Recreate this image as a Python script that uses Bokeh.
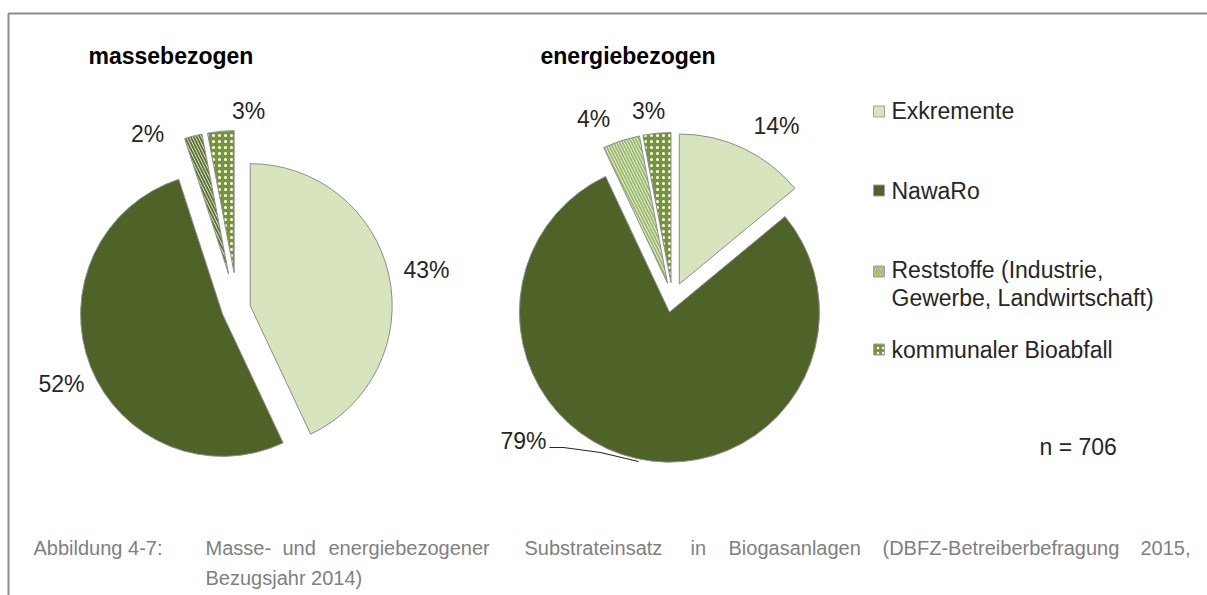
import math
from bokeh.plotting import figure
from bokeh.models import Range1d
from bokeh.embed import file_html
from bokeh.resources import INLINE
from bokeh.core.properties import value

# ---------------- data ----------------
categories = ["Exkremente", "NawaRo",
              "Reststoffe (Industrie, Gewerbe, Landwirtschaft)",
              "kommunaler Bioabfall"]
legend_lines = [["Exkremente"], ["NawaRo"],
                ["Reststoffe (Industrie,", "Gewerbe, Landwirtschaft)"],
                ["kommunaler Bioabfall"]]
masse_values = [43, 52, 2, 3]
energie_values = [14, 79, 4, 3]
pie_titles = ["massebezogen", "energiebezogen"]
n_label = "n = 706"
caption_head = "Abbildung 4-7:"
caption_words = ["Masse-", "und", "energiebezogener", "Substrateinsatz", "in",
                 "Biogasanlagen", "(DBFZ-Betreiberbefragung", "2015,"]
caption_line2 = "Bezugsjahr 2014)"

# ---------------- styles / layout ----------------
W, H = 1207, 595
def Y(py):
    return H - py

FONT = value("Liberation Sans")
fills = ["#D7E4BD", "#4F6228", "#FFFFFF", "#77933C"]
hatches = [None, None, "\\", "."]
outline = "#8C8C8C"

pies = [
    dict(values=masse_values, cx=237, cy=308, r=142, explode=[13, 16, 36, 36],
         hatch_col="#5F7536",
         label_pos=[(426, 269), (61, 383), (147, 133), (248, 110)],
         title_pos=(88, 55)),
    dict(values=energie_values, cx=672, cy=298, r=150, explode=[16, 14, 16, 16],
         hatch_col="#9DB96E",
         label_pos=[(776, 125), (523, 440), (593, 118), (648, 110)],
         title_pos=(540, 55)),
]

p = figure(width=W, height=H, output_backend="svg", toolbar_location=None,
           x_range=Range1d(0, W), y_range=Range1d(0, H), min_border=0,
           background_fill_color="white", border_fill_color="white")
p.axis.visible = False
p.grid.visible = False
p.outline_line_color = None

# frame lines
p.line(x=[8, 8, W], y=[0, Y(13), Y(13)], line_color="#8C8C8C", line_width=2)

for k, pie in enumerate(pies):
    vals = pie["values"]
    total = float(sum(vals))
    cum = 0.0
    for i, v in enumerate(vals):
        t1 = cum / total * 360.0
        t2 = (cum + v) / total * 360.0
        cum += v
        bis = math.radians((t1 + t2) / 2.0)
        d = pie["explode"][i]
        x = pie["cx"] + d * math.sin(bis)
        yp = pie["cy"] - d * math.cos(bis)
        kw = dict(x=[x], y=[Y(yp)], radius=pie["r"], radius_units="screen",
                  start_angle=math.radians(90 - t2), end_angle=math.radians(90 - t1),
                  fill_color=fills[i], line_color=outline, line_width=1)
        if hatches[i] == "\\":
            kw.update(hatch_pattern="\\", hatch_color=pie["hatch_col"],
                      hatch_scale=6, hatch_weight=2)
        elif hatches[i] == ".":
            kw.update(hatch_pattern=".", hatch_color="white",
                      hatch_scale=6, hatch_weight=1.2)
        p.wedge(**kw)
        lx, ly = pie["label_pos"][i]
        p.text(x=[lx], y=[Y(ly)], text=[f"{v}%"], text_align="center",
               text_baseline="middle", text_font=FONT, text_font_size="23px",
               text_color="#262626")
    tx, ty = pie["title_pos"]
    p.text(x=[tx], y=[Y(ty)], text=[pie_titles[k]], text_align="left",
           text_baseline="middle", text_font=FONT, text_font_size="23px",
           text_font_style="bold", text_color="#000000")

# leader line for 79%
p.line(x=[549, 563, 600, 638], y=[Y(447), Y(447), Y(452), Y(461)],
       line_color="#262626", line_width=1.2)

# legend
leg_sq_y = [111, 190, 271, 349]
leg_txt_y = [[110], [190], [269, 297], [349]]
for i, cat in enumerate(categories):
    kw = dict(x=[878.5], y=[Y(leg_sq_y[i])], width=11, height=11,
              fill_color=fills[i], line_color="#A0A0A0", line_width=1)
    if hatches[i] == "\\":
        kw.update(hatch_pattern="\\", hatch_color="#9DB96E", hatch_scale=5, hatch_weight=2)
    elif hatches[i] == ".":
        kw.update(hatch_pattern=".", hatch_color="white", hatch_scale=5, hatch_weight=1.2)
    p.rect(**kw)
    for line, ty in zip(legend_lines[i], leg_txt_y[i]):
        p.text(x=[891], y=[Y(ty)], text=[line], text_align="left", text_baseline="middle",
               text_font=FONT, text_font_size="23px", text_color="#262626")

p.text(x=[1039], y=[Y(446)], text=[n_label], text_align="left", text_baseline="middle",
       text_font=FONT, text_font_size="23px", text_color="#262626")

# caption
cap_col = "#808080"
cap_x = [205, 282, 328, 524, 690, 728, 882]
p.text(x=[33], y=[Y(547)], text=[caption_head], text_align="left", text_baseline="middle",
       text_font=FONT, text_font_size="20px", text_color=cap_col)
for w, x in zip(caption_words[:-1], cap_x):
    p.text(x=[x], y=[Y(547)], text=[w], text_align="left", text_baseline="middle",
           text_font=FONT, text_font_size="20px", text_color=cap_col)
p.text(x=[1190], y=[Y(547)], text=[caption_words[-1]], text_align="right",
       text_baseline="middle", text_font=FONT, text_font_size="20px", text_color=cap_col)
p.text(x=[205], y=[Y(577)], text=[caption_line2], text_align="left", text_baseline="middle",
       text_font=FONT, text_font_size="20px", text_color=cap_col)

open("out.html", "w").write(file_html(p, INLINE))
